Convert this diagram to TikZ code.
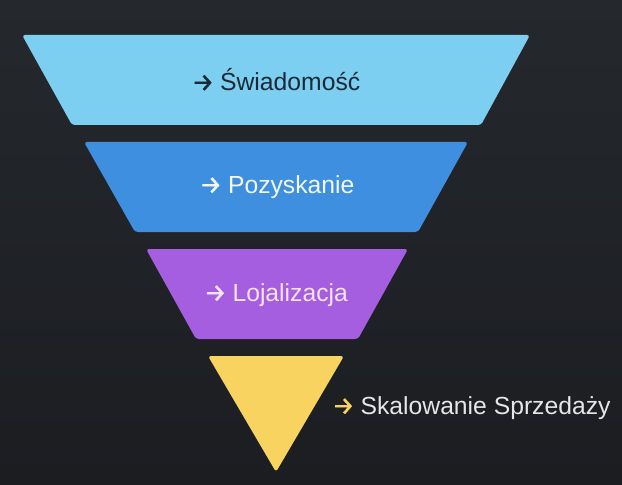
\documentclass[tikz,border=0pt]{standalone}
\usepackage{fontspec}
\setmainfont{Liberation Sans}
\newfontfamily\arrfont[FakeBold=1.5]{Fira Sans}
\definecolor{bgtop}{HTML}{25282D}
\definecolor{bgbot}{HTML}{1B1D21}
\definecolor{cA}{HTML}{7CCFF0}
\definecolor{cB}{HTML}{3E8FE0}
\definecolor{cC}{HTML}{A55EDF}
\definecolor{cD}{HTML}{F8D35F}
\definecolor{tA}{HTML}{1B2936}
\definecolor{tB}{HTML}{F4F8FC}
\definecolor{tC}{HTML}{F7E2F6}
\definecolor{tD}{HTML}{E6E6E6}
\tikzset{
  band/.style={rounded corners=3bp},
  lbl/.style={font=\fontsize{24.8}{28}\selectfont, inner sep=0pt, anchor=center},
}
\newcommand{\arw}{{\arrfont\fontsize{25}{28}\selectfont →}\hspace{6bp}}
\begin{document}
\begin{tikzpicture}[x=1bp,y=-1bp]
\shade[top color=bgtop, bottom color=bgbot] (0,0) rectangle (622,485);
\useasboundingbox (0,0) rectangle (622,485);
\fill[cA, band] (22,35) -- (530,35) -- (481,125) -- (72,125) -- cycle;
\fill[cB, band] (84,142) -- (468,142) -- (418,232) -- (135,232) -- cycle;
\fill[cC, band] (146,249) -- (408,249) -- (358,339) -- (196,339) -- cycle;
\fill[cD, band] (208,356) -- (344,356) -- (276,472) -- cycle;
\node[lbl, text=tA] (la) at (276,80) {\arw Świadomość};
\node[lbl, text=tB] (lb) at (277,187) {\arw Pozyskanie};
\node[lbl, text=tC] (lc) at (276,295) {\arw Lojalizacja};
\node[lbl, text=tD, anchor=west] (ld) at (332,408) {{\color{cD}\arw}Skalowanie Sprzedaży};
\end{tikzpicture}
\end{document}
